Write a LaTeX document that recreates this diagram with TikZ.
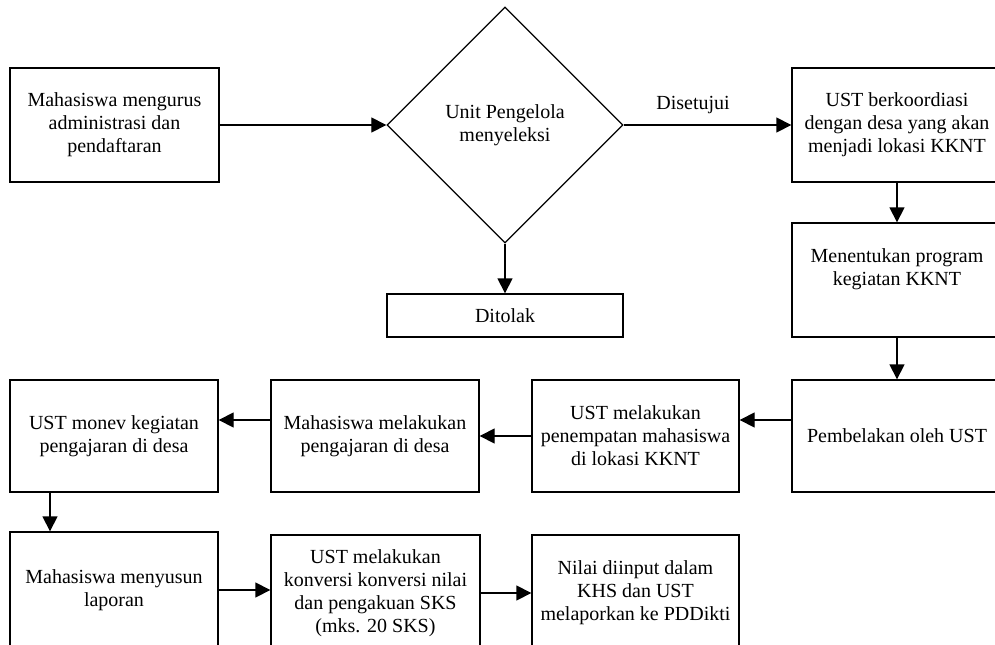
\documentclass[tikz,border=0pt]{standalone}
\usepackage{fontspec}
\setmainfont{Liberation Serif}
\usetikzlibrary{positioning, arrows.meta}
\usetikzlibrary{shapes.geometric}
\tikzset{
    box/.style={shape=rectangle,draw,align=center,inner sep=2pt},
    pilih/.style={shape=diamond,draw,align=center,aspect=1,minimum width=141.6pt,minimum height=141.6pt,inner sep=0pt},
  }
\begin{document}
\begin{tikzpicture}[x=0.6pt,y=-0.6pt,>={Triangle[length=9pt,width=9pt]},line width=0.8pt,
    every node/.style={font=\fontsize{12pt}{13.8pt}\selectfont}]
    \useasboundingbox (0,0) rectangle (995,645);
	    % baris atas
		    \node[box,minimum width=125.4pt,minimum height=68.4pt] (daftar) at (114.5,125) {Mahasiswa mengurus\\administrasi dan\\pendaftaran};
		    \node[pilih] (seleksi) at (505,125) {Unit Pengelola\\menyeleksi};
		    \node[box,minimum width=141.6pt,minimum height=25.8pt] (tolak) at (505,315.5) {Ditolak};
		    \node[box,minimum width=126pt,minimum height=68.4pt] (koordinasi) at (897,125) {UST berkoordiasi\\dengan desa yang akan\\menjadi lokasi KKNT};
		    \node[box,minimum width=126pt,minimum height=68.4pt] (program) at (897,280) {Menentukan program\\kegiatan KKNT\\[2pt]\mbox{}}; %teks agak ke atas
	    % baris tengah
		    \node[box,minimum width=126pt,minimum height=67.2pt] (bekal) at (897,436) {Pembelakan oleh UST};
		    \node[box,minimum width=124.2pt,minimum height=67.2pt] (tempat) at (635.5,436) {UST melakukan\\penempatan mahasiswa\\di lokasi KKNT};
		    \node[box,minimum width=124.8pt,minimum height=67.2pt] (ajar) at (375,436) {Mahasiswa melakukan\\pengajaran di desa};
		    \node[box,minimum width=124.8pt,minimum height=67.2pt] (monev) at (114,436) {UST monev kegiatan\\pengajaran di desa};
	    % baris bawah
		    \node[box,minimum width=124.8pt,minimum height=69.6pt] (lapor) at (114,590) {Mahasiswa menyusun\\laporan};
		    \node[box,minimum width=125.4pt,minimum height=69.6pt] (konversi) at (375.5,593) {UST melakukan\\konversi konversi nilai\\dan pengakuan SKS\\(mks. 20 SKS)};
		    \node[box,minimum width=124.2pt,minimum height=69.6pt] (nilai) at (635.5,593) {Nilai diinput dalam\\KHS dan UST\\melaporkan ke PDDikti};
	    % panah
		    \draw[->] (daftar) -- (seleksi);
		    \draw[->] (seleksi) -- node[above=3pt,pos=0.414] (setuju) {Disetujui} (koordinasi);
		    \draw[->] (seleksi) -- (tolak);
		    \draw[->] (koordinasi) -- (program);
		    \draw[->] (program) -- (bekal);
		    \draw[->] ([yshift=9.6pt]bekal.west) -- ([yshift=9.6pt]tempat.east);
		    \draw[->] (tempat) -- (ajar);
		    \draw[->] ([yshift=9.6pt]ajar.west) -- ([yshift=9.6pt]monev.east);
		    \draw[->] ([xshift=-38.4pt]monev.south) -- ([xshift=-38.4pt]lapor.north);
		    \draw[->] (lapor.east) -- (lapor.east -| konversi.west);
		    \draw[->] (konversi.east) -- (konversi.east -| nilai.west);
		\end{tikzpicture}
\end{document}
